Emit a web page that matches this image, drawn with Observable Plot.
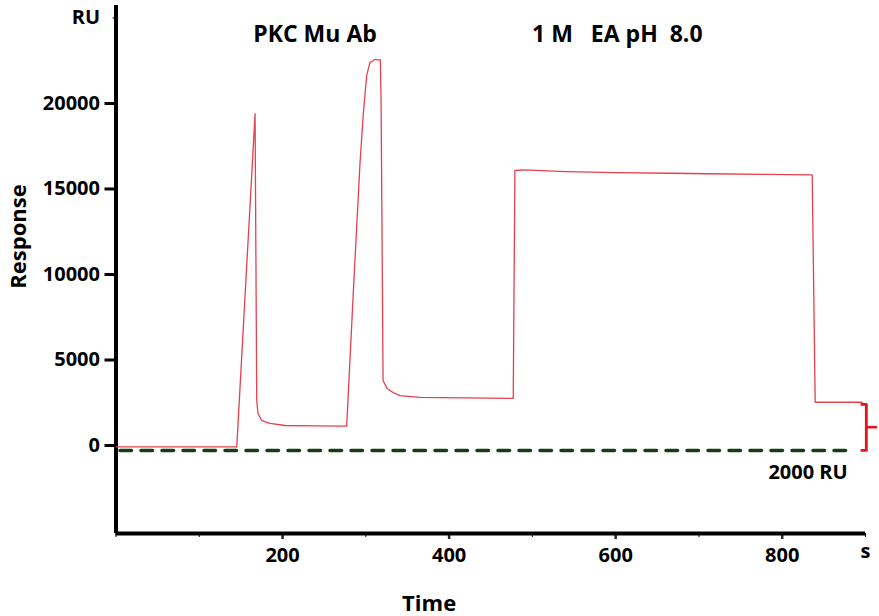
<!DOCTYPE html>
<html><head><meta charset="utf-8">
<script src="https://cdn.jsdelivr.net/npm/d3@7"></script>
<script src="https://cdn.jsdelivr.net/npm/@observablehq/plot@0.6"></script>
<style>body{margin:0;background:#fff}#chart{width:879px;height:616px}</style>
</head><body><div id="chart"></div>
<script>
// Sensorgram (time in s, response in RU)
const time = [0, 145, 167, 169, 170.5, 175, 185, 203, 240, 277, 285, 293, 297, 301, 305, 311, 317.4, 318.3, 320.7, 325.5, 332.7, 341, 365, 420, 477, 479, 490, 540, 600, 668, 710, 780, 836, 839.6, 896];
const response = [-80, -80, 19400, 2630, 1870, 1460, 1290, 1170, 1150, 1130, 9000, 16500, 19415, 21640, 22400, 22570, 22550, 20175, 3800, 3330, 3100, 2920, 2810, 2780, 2750, 16080, 16120, 16020, 15960, 15920, 15890, 15850, 15820, 2530, 2530];

const baselineLevel = -290;
const baselineRange = [0, 876];

const xDomain = [0, 900];
const yDomain = [-5146, 25730];
const yTicks = [0, 5000, 10000, 15000, 20000];
const xTicks = [200, 400, 600, 800];
const xMinorTicks = [0, 100, 300, 500, 700];
const yUnitTick = [25000], yUnitLabel = "RU";
const xUnitTick = [900], xUnitLabel = "s";

const titleLabels = ["PKC Mu Ab", "1 M\u00a0\u00a0 EA pH\u00a0 8.0"];
const titleX = [239, 602];
const titleY = 24035;

const bracketX = 901, bracketSerif = 895.5, bracketTick = 914.4;
const bracketTop = 2400, bracketBottom = -290, bracketMid = 1070;
const bracketLabel = "2000 RU", bracketLabelPos = [831, -1580];

const xTitle = "Time", xTitlePos = [376, -9250];
const yTitle = "Response", yTitlePos = [-117, 12222];

const curve = time.map((t, i) => ({t, r: response[i]}));
const baseline = baselineRange.map(t => ({t, r: baselineLevel}));
const bracket = [
  {t: bracketSerif, r: bracketTop}, {t: bracketX, r: bracketTop},
  {t: bracketX, r: bracketBottom}, {t: bracketSerif, r: bracketBottom}
];
const titles = titleLabels.map((text, i) => ({text, t: titleX[i], r: titleY}));

const chart = Plot.plot({
  width: 879, height: 616,
  marginLeft: 115.5, marginRight: 14, marginTop: 5, marginBottom: 83,
  x: {domain: xDomain},
  y: {domain: yDomain},
  style: {fontFamily: "'Open Sans', sans-serif", fontWeight: "bold", background: "#fff", color: "#000", overflow: "visible"},
  marks: [
    Plot.axisY(yTicks, {tickSize: 11, tickPadding: 5, fontSize: 20, strokeWidth: 3, tickFormat: d3.format("d"), label: null}),
    Plot.axisY(yUnitTick, {tickSize: 3, tickPadding: 13, fontSize: 20, strokeWidth: 1, tickFormat: () => yUnitLabel, label: null}),
    Plot.axisX(xTicks, {tickSize: 6, tickPadding: 8, fontSize: 20, strokeWidth: 2.5, stroke: "#1a2e1a", tickFormat: d3.format("d"), label: null}),
    Plot.axisX(xUnitTick, {tickSize: 4, tickPadding: 6, fontSize: 20, strokeWidth: 1, tickFormat: () => xUnitLabel, label: null}),
    Plot.axisX(xMinorTicks, {tickSize: 4, text: null, strokeWidth: 1, label: null}),
    Plot.ruleX([xDomain[0]], {stroke: "#000", strokeWidth: 4}),
    Plot.ruleY([yDomain[0]], {stroke: "#000", strokeWidth: 4, x1: xDomain[0], x2: xDomain[1]}),
    Plot.line(baseline, {x: "t", y: "r", stroke: "#163d16", strokeWidth: 3.5, strokeDasharray: "11.5,9.5", strokeDashoffset: -4}),
    Plot.line(curve, {x: "t", y: "r", stroke: "#e5404e", strokeWidth: 1.3}),
    Plot.line(bracket, {x: "t", y: "r", stroke: "#e8101a", strokeWidth: 2.8}),
    Plot.ruleY([bracketMid], {x1: bracketX, x2: bracketTick, stroke: "#e8101a", strokeWidth: 2.5}),
    Plot.text(titles, {x: "t", y: "r", text: "text", fontSize: 23, fill: "#000"}),
    Plot.text([bracketLabel], {x: () => bracketLabelPos[0], y: () => bracketLabelPos[1], text: d => d, fontSize: 20, fill: "#000"}),
    Plot.text([xTitle], {x: () => xTitlePos[0], y: () => xTitlePos[1], text: d => d, fontSize: 22, fill: "#000"}),
    Plot.text([yTitle], {x: () => yTitlePos[0], y: () => yTitlePos[1], text: d => d, fontSize: 22, rotate: -90, fill: "#000"})
  ]
});
document.getElementById("chart").appendChild(chart);
</script>
</body></html>
